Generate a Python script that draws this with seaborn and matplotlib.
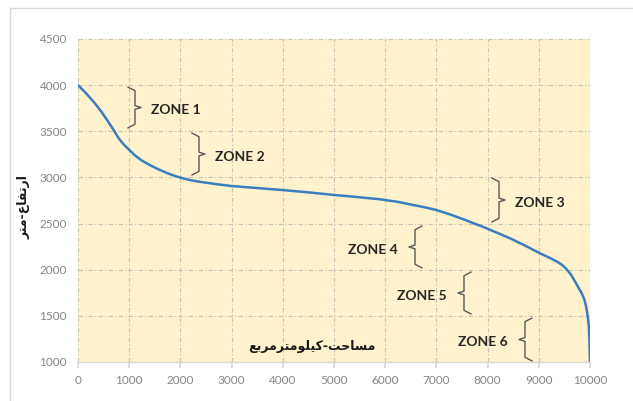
import matplotlib
matplotlib.use("Agg")
import matplotlib.pyplot as plt
import seaborn as sns
import pandas as pd
from matplotlib.lines import Line2D

# data (area in km2 vs elevation in m)
area = [0, 170, 330, 460, 590, 700, 790, 880, 980, 1100, 1240, 1400, 1570,
        1750, 1900, 2050, 2200, 2350, 2500, 2700, 3000, 3500, 4000, 4500,
        5000, 5500, 5900, 6250, 6550, 6800, 7000, 7260, 7530, 7980, 8440,
        8730, 9020, 9200, 9350, 9460, 9545, 9630, 9705, 9780, 9840, 9890,
        9920, 9945, 9965, 9978, 9988, 10000]
elev = [4000, 3905, 3803, 3710, 3604, 3510, 3428, 3365, 3310, 3245, 3185,
        3135, 3088, 3045, 3015, 2990, 2970, 2955, 2943, 2927, 2907, 2885,
        2863, 2838, 2810, 2785, 2763, 2735, 2701, 2673, 2647, 2600, 2546,
        2449, 2340, 2262, 2178, 2132, 2090, 2050, 2004, 1945, 1875, 1800,
        1744, 1675, 1610, 1535, 1455, 1380, 1250, 1000]

zone_names = ["ZONE 1", "ZONE 2", "ZONE 3", "ZONE 4", "ZONE 5", "ZONE 6"]
zone_x = [1113, 2363, 8223, 6582, 7539, 8730]       # brace spine position
zone_lo = [3536, 3026, 2517, 2019, 1520, 1011]
zone_hi = [3980, 3481, 2994, 2474, 1975, 1477]
zone_side = [1, 1, 1, -1, -1, -1]                    # 1 = "}" , -1 = "{"

xticks = list(range(0, 10001, 1000))
yticks = list(range(1000, 4501, 500))

x_label = "مساحت-كيلومترمربع"
y_label = "ارتفاع-متر"

# minimal arabic shaping (matplotlib does no bidi / joining)
FORMS = {
    "ا": ("\uFE8D", "\uFE8E", None, None),
    "ب": ("\uFE8F", "\uFE90", "\uFE91", "\uFE92"),
    "ت": ("\uFE95", "\uFE96", "\uFE97", "\uFE98"),
    "ح": ("\uFEA1", "\uFEA2", "\uFEA3", "\uFEA4"),
    "ر": ("\uFEAD", "\uFEAE", None, None),
    "س": ("\uFEB1", "\uFEB2", "\uFEB3", "\uFEB4"),
    "ع": ("\uFEC9", "\uFECA", "\uFECB", "\uFECC"),
    "ف": ("\uFED1", "\uFED2", "\uFED3", "\uFED4"),
    "ك": ("\uFED9", "\uFEDA", "\uFEDB", "\uFEDC"),
    "ل": ("\uFEDD", "\uFEDE", "\uFEDF", "\uFEE0"),
    "م": ("\uFEE1", "\uFEE2", "\uFEE3", "\uFEE4"),
    "و": ("\uFEED", "\uFEEE", None, None),
    "ي": ("\uFEF1", "\uFEF2", "\uFEF3", "\uFEF4"),
}


def shape(s):
    out = []
    for i, c in enumerate(s):
        if c not in FORMS:
            out.append(c)
            continue
        prev = s[i - 1] if i > 0 else None
        nxt = s[i + 1] if i + 1 < len(s) else None
        jp = prev in FORMS and FORMS[prev][2] is not None
        jn = nxt in FORMS and FORMS[c][2] is not None
        iso, fin, ini, med = FORMS[c]
        if jp and jn:
            out.append(med)
        elif jp:
            out.append(fin)
        elif jn:
            out.append(ini)
        else:
            out.append(iso)
    return "".join(reversed(out))


df = pd.DataFrame({"area": area, "elev": elev})

sns.set_theme(style="white")
plt.rcParams["font.family"] = ["Lato", "DejaVu Sans"]

fig = plt.figure(figsize=(6.33, 4.01), dpi=100)
ax = fig.add_axes([78 / 633, 1 - 362 / 401, 512 / 633, 323 / 401])
ax.set_facecolor("#FFF2CC")

sns.lineplot(data=df, x="area", y="elev", ax=ax, color="#3A7DC0", lw=1.8)

ax.set_xlim(0, 10000)
ax.set_ylim(1000, 4500)
ax.set_xticks(xticks)
ax.set_yticks(yticks)
ax.grid(True, color="#C8C3B4", lw=0.8, ls=(0, (4, 2, 1, 2)))
ax.set_axisbelow(True)
for s in ["top", "right", "left"]:
    ax.spines[s].set_visible(False)
ax.spines["bottom"].set_color("#D9D9D9")
ax.spines["bottom"].set_linewidth(1)
ax.tick_params(axis="x", length=4, color="#D9D9D9", labelsize=8.5,
               labelcolor="#858585", pad=5, bottom=True)
ax.tick_params(axis="y", length=0, labelsize=8.5, labelcolor="#858585", pad=8)
ax.set_xlabel("")
ax.set_ylabel("")

# zone braces
dx = 117
for name, xs, lo, hi, side in zip(zone_names, zone_x, zone_lo, zone_hi, zone_side):
    mid = (lo + hi) / 2
    bx = [xs - side * dx * 1.2, xs, xs, xs + side * dx, xs, xs, xs - side * dx * 1.2]
    by = [hi, hi - 40, mid + 20, mid, mid - 20, lo + 40, lo]
    ax.plot(bx, by, color="#595959", lw=1)
    if side == 1:
        ax.text(xs + dx * 2.7, mid - 30, name, ha="left", va="center",
                fontsize=10, fontweight="bold", color="#262626")
    else:
        ax.text(xs - dx * 2.9, mid - 30, name, ha="right", va="center",
                fontsize=10, fontweight="bold", color="#262626")

ax.text(4570, 1165, shape(x_label), ha="center", va="center", fontsize=9,
        fontweight="bold", family=["DejaVu Sans"], color="#1A1A1A")
fig.text(24 / 633, 1 - 207 / 401, shape(y_label), rotation=90, ha="center",
         va="center", fontsize=9, fontweight="bold", family=["DejaVu Sans"],
         color="#1A1A1A")

# outer chart-area frame
fig.add_artist(Line2D([10 / 633, 1], [1 - 8 / 401] * 2, transform=fig.transFigure,
                      color="#D9D9D9", lw=1))
fig.add_artist(Line2D([10 / 633] * 2, [0, 1 - 8 / 401], transform=fig.transFigure,
                      color="#D9D9D9", lw=1))

fig.savefig("out.png", dpi=100)
